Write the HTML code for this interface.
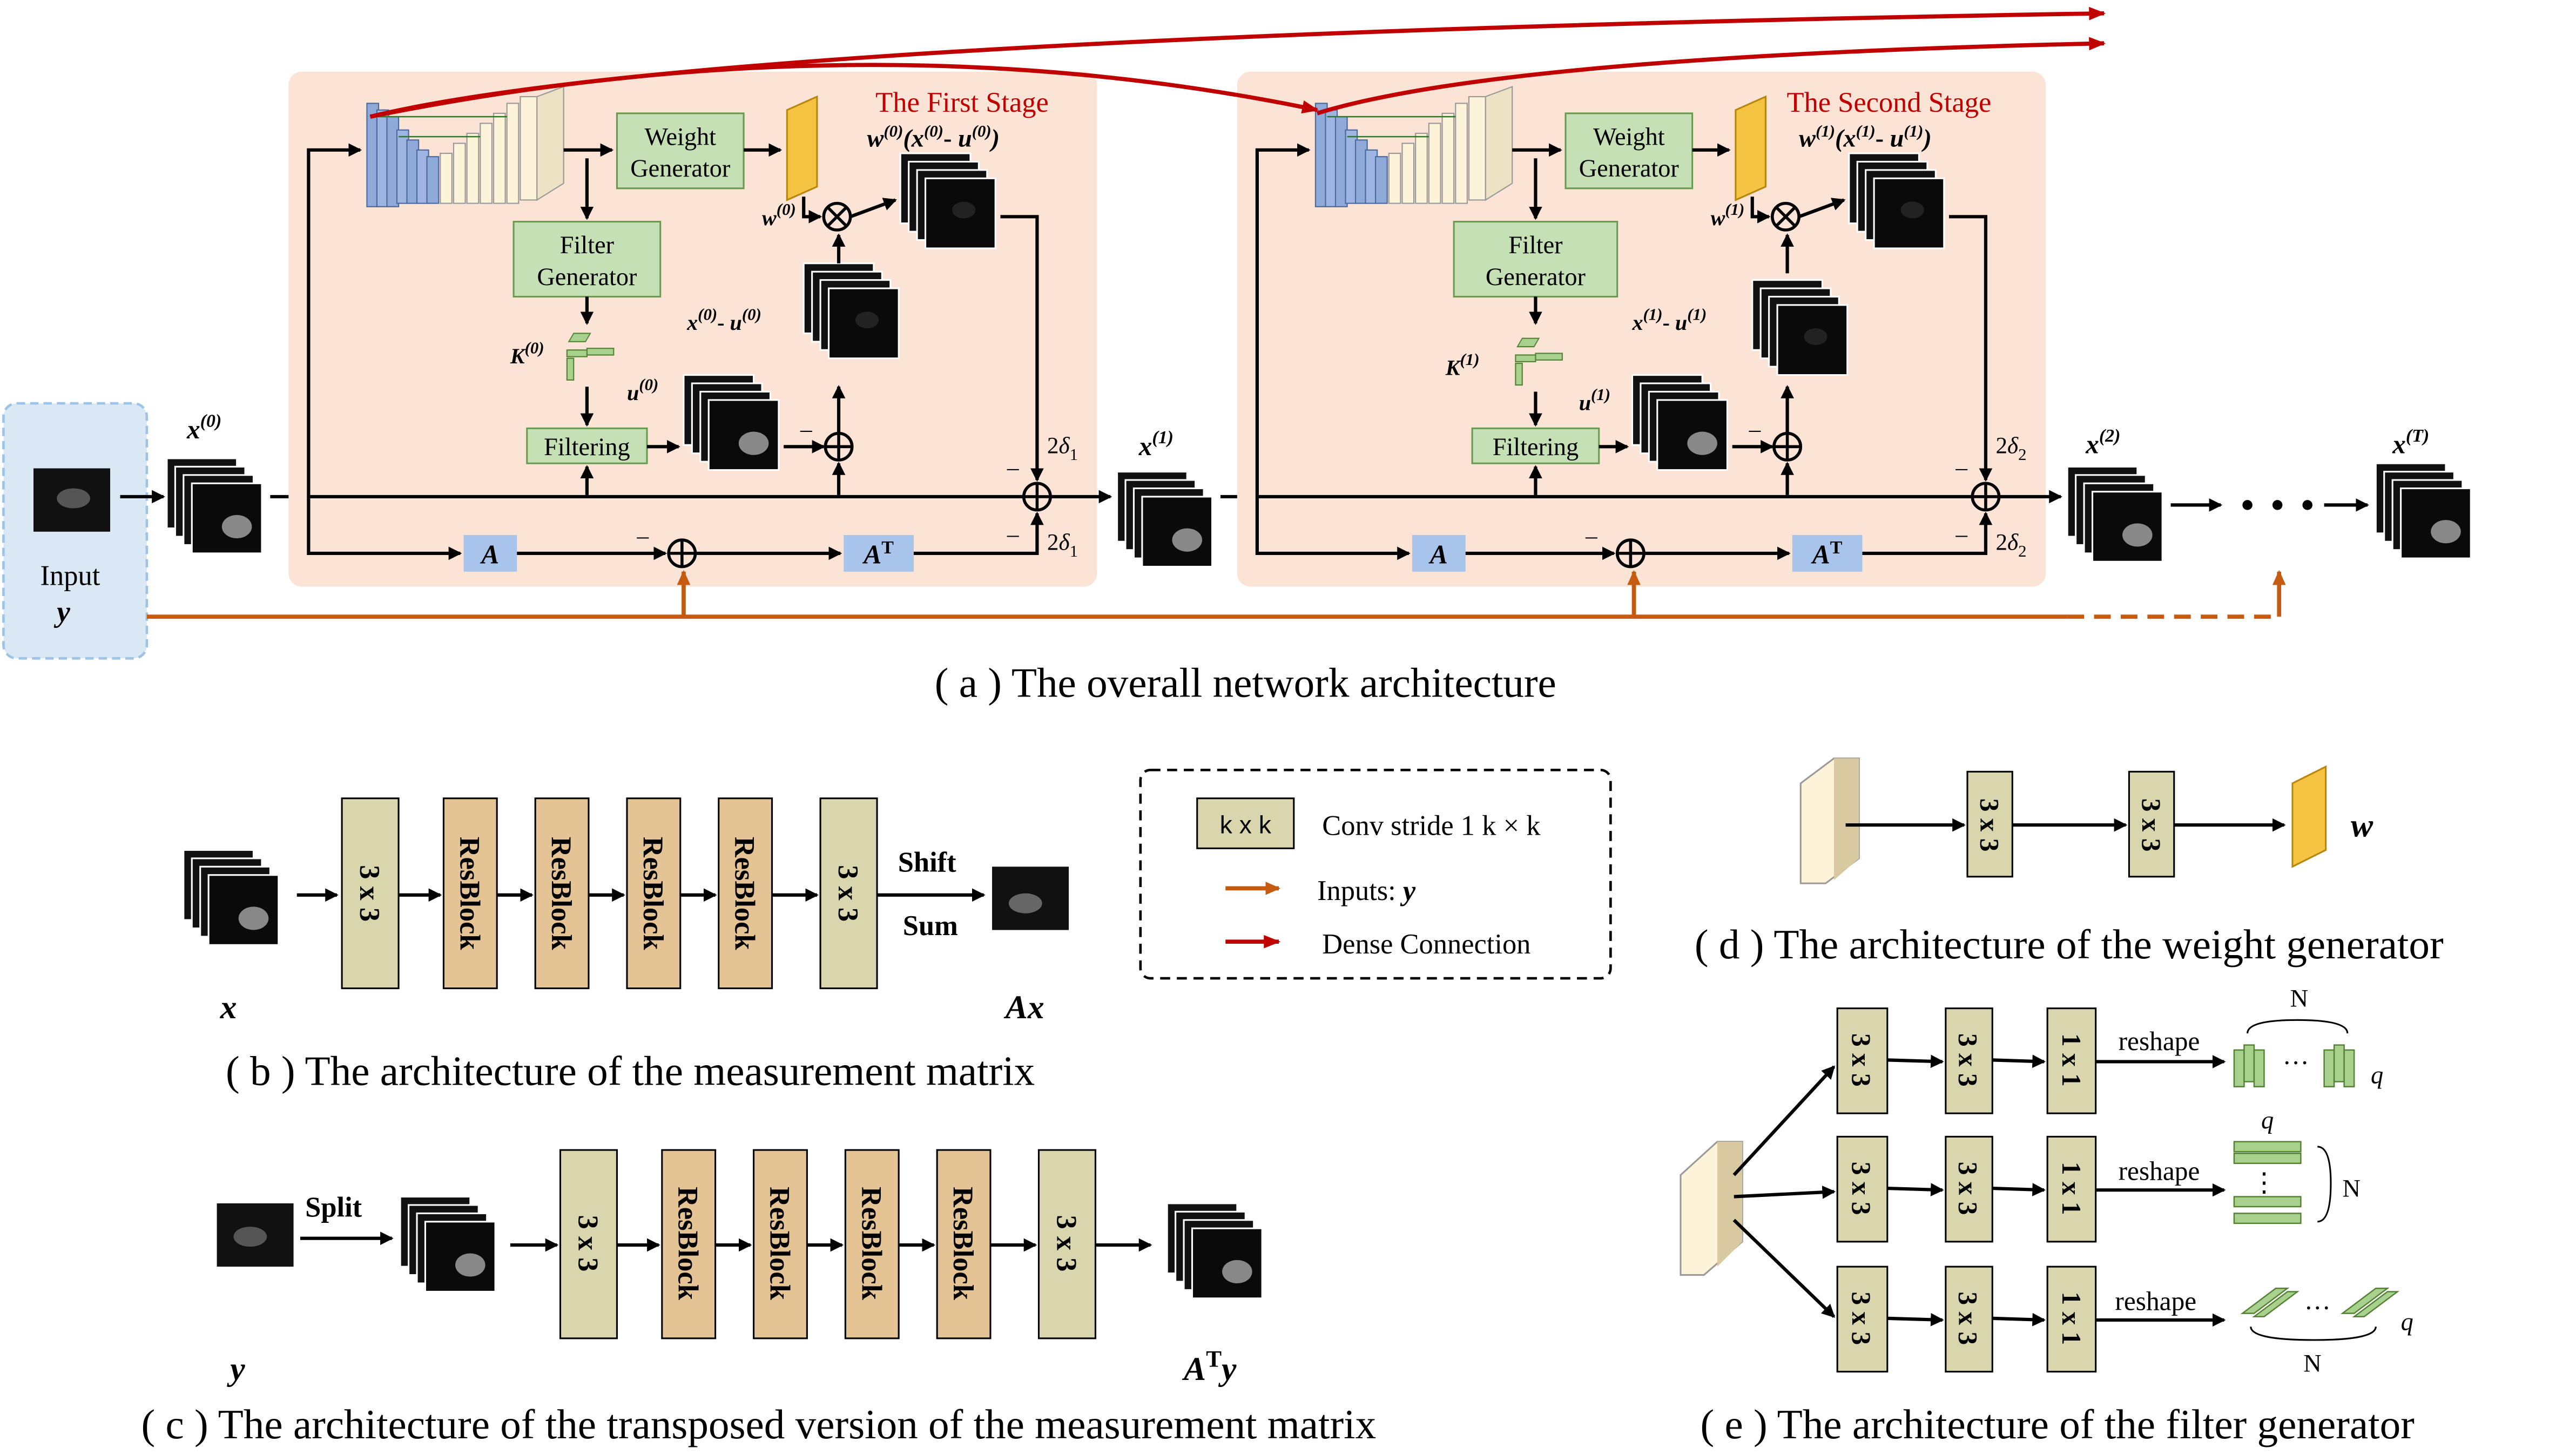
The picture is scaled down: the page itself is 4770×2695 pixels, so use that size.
<!DOCTYPE html>
<html><head><meta charset="utf-8"><style>
html,body{margin:0;padding:0;background:#fff}
svg{display:block}
text{font-family:"Liberation Serif",serif;fill:#000}
</style></head><body>
<svg width="4770" height="2695" viewBox="0 0 1545 873" xmlns="http://www.w3.org/2000/svg">
<defs>
<marker id="ab" markerWidth="8" markerHeight="8" refX="7" refY="4" orient="auto" markerUnits="userSpaceOnUse"><path d="M0,0 L8,4 L0,8 z" fill="#000"/></marker>
<marker id="ar" markerWidth="10" markerHeight="8" refX="9" refY="4" orient="auto" markerUnits="userSpaceOnUse"><path d="M0,0 L10,4 L0,8 z" fill="#c00000"/></marker>
<marker id="ao" markerWidth="9" markerHeight="8" refX="8" refY="4" orient="auto" markerUnits="userSpaceOnUse"><path d="M0,0 L9,4 L0,8 z" fill="#c55a11"/></marker>
<g id="stk">
<rect x="0" y="0" width="42" height="42" fill="#111" stroke="#fff" stroke-width="1"/>
<rect x="5" y="5" width="42" height="42" fill="#111" stroke="#fff" stroke-width="1"/>
<rect x="10" y="10" width="42" height="42" fill="#111" stroke="#fff" stroke-width="1"/>
<rect x="15" y="15" width="42" height="42" fill="#0a0a0a" stroke="#fff" stroke-width="1"/>
<ellipse cx="42" cy="41" rx="9" ry="7" fill="#888"/>
</g>
<g id="stkd">
<rect x="0" y="0" width="42" height="42" fill="#111" stroke="#fff" stroke-width="1"/>
<rect x="5" y="5" width="42" height="42" fill="#111" stroke="#fff" stroke-width="1"/>
<rect x="10" y="10" width="42" height="42" fill="#111" stroke="#fff" stroke-width="1"/>
<rect x="15" y="15" width="42" height="42" fill="#0a0a0a" stroke="#fff" stroke-width="1"/>
<ellipse cx="38" cy="34" rx="7" ry="5" fill="#222"/>
</g>
<g id="unet">
<rect x="0" y="10" width="7" height="62" fill="#8fa9d9" stroke="#4a6aa0" stroke-width="0.7"/>
<rect x="6" y="14" width="7" height="58" fill="#9db5e0" stroke="#4a6aa0" stroke-width="0.7"/>
<rect x="12" y="18" width="7" height="54" fill="#8fa9d9" stroke="#4a6aa0" stroke-width="0.7"/>
<rect x="18" y="26" width="7" height="44" fill="#9db5e0" stroke="#4a6aa0" stroke-width="0.7"/>
<rect x="24" y="32" width="7" height="38" fill="#8fa9d9" stroke="#4a6aa0" stroke-width="0.7"/>
<rect x="30" y="38" width="7" height="32" fill="#9db5e0" stroke="#4a6aa0" stroke-width="0.7"/>
<rect x="36" y="42" width="7" height="28" fill="#8fa9d9" stroke="#4a6aa0" stroke-width="0.7"/>
<rect x="44" y="40" width="7" height="30" fill="#fdf3d8" stroke="#999" stroke-width="0.7"/>
<rect x="52" y="34" width="7" height="36" fill="#fdf3d8" stroke="#999" stroke-width="0.7"/>
<rect x="60" y="28" width="7" height="42" fill="#fdf3d8" stroke="#999" stroke-width="0.7"/>
<rect x="68" y="22" width="7" height="48" fill="#fdf3d8" stroke="#999" stroke-width="0.7"/>
<rect x="76" y="16" width="7" height="54" fill="#fdf3d8" stroke="#999" stroke-width="0.7"/>
<rect x="84" y="10" width="7" height="60" fill="#fdf3d8" stroke="#999" stroke-width="0.7"/>
<rect x="92" y="6" width="10" height="62" fill="#fdf3d8" stroke="#999" stroke-width="0.7"/>
<polygon points="102,6 118,0 118,58 102,68" fill="#ede3c4" stroke="#999" stroke-width="0.7"/>
<line x1="7" y1="18" x2="84" y2="18" stroke="#2a7a2a" stroke-width="0.8"/>
<line x1="19" y1="30" x2="68" y2="30" stroke="#2a7a2a" stroke-width="0.8"/>
</g>
<g id="kblk" fill="#a9d18e" stroke="#548235" stroke-width="0.7">
<rect x="0" y="15" width="4" height="13"/><rect x="4" y="0" width="10" height="5" transform="skewX(-30)"/>
<rect x="12" y="9" width="16" height="4"/><rect x="0" y="10" width="12" height="4"/>
</g>
</defs>

<!-- input -->
<rect x="2" y="242" width="86" height="153" rx="8" fill="#dae8f5" stroke="#9dc3e6" stroke-width="1.5" stroke-dasharray="5,3"/>
<rect x="20" y="281" width="46" height="38" fill="#111"/><ellipse cx="44" cy="299" rx="10" ry="6" fill="#555"/>
<text x="42" y="351" font-size="17" text-anchor="middle">Input</text>
<text x="38" y="373" font-size="18" font-style="italic" font-weight="bold" text-anchor="middle">y</text>
<path d="M88,370 H1240" stroke="#c55a11" stroke-width="2.5" fill="none"/>
<path d="M1240,370 H1365" stroke="#c55a11" stroke-width="2.5" stroke-dasharray="10,6" fill="none"/>
<path d="M1367,370 V343" stroke="#c55a11" stroke-width="2.5" fill="none" marker-end="url(#ao)"/>

<use href="#stk" x="100" y="275"/>
<text x="112" y="263" font-size="16" font-weight="bold" font-style="italic">x<tspan font-size="11" dy="-7">(0)</tspan></text>
<line x1="72" y1="298" x2="98" y2="298" stroke="#000" stroke-width="2" marker-end="url(#ab)"/>
<line x1="162" y1="298" x2="185" y2="298" stroke="#000" stroke-width="2" marker-end="url(#ab)"/>

<!-- stages -->
<g id="stage">
<rect x="173" y="43" width="485" height="309" rx="8" fill="#fbe3d6"/>
<line x1="185" y1="298" x2="614" y2="298" stroke="#000" stroke-width="2"/>
<path d="M185,298 V90 H216" stroke="#000" stroke-width="2" fill="none" marker-end="url(#ab)"/>
<path d="M185,298 V332 H276" stroke="#000" stroke-width="2" fill="none" marker-end="url(#ab)"/>
<use href="#unet" x="220" y="52"/>
<line x1="338" y1="90" x2="367" y2="90" stroke="#000" stroke-width="2" marker-end="url(#ab)"/>
<rect x="370" y="68" width="76" height="45" fill="#c5e0b4" stroke="#6a9a50"/>
<text x="408" y="87" font-size="15" text-anchor="middle">Weight</text>
<text x="408" y="106" font-size="15" text-anchor="middle">Generator</text>
<line x1="446" y1="90" x2="468" y2="90" stroke="#000" stroke-width="2" marker-end="url(#ab)"/>
<polygon points="472,66 490,58 490,112 472,120" fill="#f5c342" stroke="#b8860b"/>
<text x="457" y="135" font-size="13" font-weight="bold" font-style="italic">w<tspan font-size="10" dy="-6">(0)</tspan></text>
<path d="M482,118 V130 H492" stroke="#000" stroke-width="2" fill="none" marker-end="url(#ab)"/>
<circle cx="502" cy="130" r="8" fill="none" stroke="#000" stroke-width="1.8"/>
<path d="M496,124 L508,136 M508,124 L496,136" stroke="#000" stroke-width="1.8"/>
<line x1="510" y1="130" x2="537" y2="120" stroke="#000" stroke-width="2" marker-end="url(#ab)"/>
<use href="#stkd" x="540" y="92"/>
<path d="M600,130 H622 V288" stroke="#000" stroke-width="2" fill="none" marker-end="url(#ab)"/>
<text x="577" y="67" font-size="17" text-anchor="middle" style="fill:#c00000">The First Stage</text>
<text x="520" y="88" font-size="15" font-weight="bold" font-style="italic">w<tspan font-size="10" dy="-6">(0)</tspan><tspan dy="6">(x</tspan><tspan font-size="10" dy="-6">(0)</tspan><tspan dy="6" font-style="normal">- </tspan><tspan>u</tspan><tspan font-size="10" dy="-6">(0)</tspan><tspan dy="6">)</tspan></text>
<line x1="352" y1="95" x2="352" y2="131" stroke="#000" stroke-width="2" marker-end="url(#ab)"/>
<rect x="308" y="133" width="88" height="45" fill="#c5e0b4" stroke="#6a9a50"/>
<text x="352" y="152" font-size="15" text-anchor="middle">Filter</text>
<text x="352" y="171" font-size="15" text-anchor="middle">Generator</text>
<line x1="352" y1="178" x2="352" y2="194" stroke="#000" stroke-width="2" marker-end="url(#ab)"/>
<text x="306" y="218" font-size="13" font-weight="bold" font-style="italic">K<tspan font-size="10" dy="-6">(0)</tspan></text>
<use href="#kblk" x="340" y="200"/>
<line x1="352" y1="232" x2="352" y2="255" stroke="#000" stroke-width="2" marker-end="url(#ab)"/>
<rect x="316" y="257" width="72" height="21" fill="#c5e0b4" stroke="#6a9a50"/>
<text x="352" y="273" font-size="15" text-anchor="middle">Filtering</text>
<line x1="352" y1="297" x2="352" y2="280" stroke="#000" stroke-width="2" marker-end="url(#ab)"/>
<line x1="388" y1="268" x2="407" y2="268" stroke="#000" stroke-width="2" marker-end="url(#ab)"/>
<text x="376" y="240" font-size="13" font-weight="bold" font-style="italic">u<tspan font-size="10" dy="-6">(0)</tspan></text>
<use href="#stk" x="410" y="225"/>
<line x1="470" y1="268" x2="494" y2="268" stroke="#000" stroke-width="2" marker-end="url(#ab)"/>
<text x="480" y="262" font-size="14">–</text>
<circle cx="503" cy="268" r="8" fill="none" stroke="#000" stroke-width="1.8"/>
<path d="M495,268 H511 M503,260 V276" stroke="#000" stroke-width="1.8"/>
<line x1="503" y1="297" x2="503" y2="278" stroke="#000" stroke-width="2" marker-end="url(#ab)"/>
<line x1="503" y1="260" x2="503" y2="232" stroke="#000" stroke-width="2" marker-end="url(#ab)"/>
<use href="#stkd" x="482" y="158"/>
<text x="412" y="198" font-size="13" font-weight="bold" font-style="italic">x<tspan font-size="10" dy="-6">(0)</tspan><tspan dy="6" font-style="normal">- </tspan>u<tspan font-size="10" dy="-6">(0)</tspan></text>
<line x1="503" y1="158" x2="503" y2="141" stroke="#000" stroke-width="2" marker-end="url(#ab)"/>
<circle cx="622" cy="298" r="8" fill="none" stroke="#000" stroke-width="1.8"/>
<path d="M614,298 H630 M622,290 V306" stroke="#000" stroke-width="1.8"/>
<text x="604" y="285" font-size="14">–</text>
<text x="604" y="325" font-size="14">–</text>
<text x="628" y="272" font-size="14">2<tspan font-style="italic">δ</tspan><tspan font-size="10" dy="4">1</tspan></text>
<text x="628" y="330" font-size="14">2<tspan font-style="italic">δ</tspan><tspan font-size="10" dy="4">1</tspan></text>
<rect x="278" y="321" width="32" height="22" fill="#a9c4eb"/>
<text x="294" y="338" font-size="16" font-weight="bold" font-style="italic" text-anchor="middle">A</text>
<line x1="310" y1="332" x2="399" y2="332" stroke="#000" stroke-width="2" marker-end="url(#ab)"/>
<text x="382" y="326" font-size="14">–</text>
<circle cx="409" cy="332" r="8" fill="none" stroke="#000" stroke-width="1.8"/>
<path d="M401,332 H417 M409,324 V340" stroke="#000" stroke-width="1.8"/>
<line x1="417" y1="332" x2="504" y2="332" stroke="#000" stroke-width="2" marker-end="url(#ab)"/>
<rect x="506" y="321" width="42" height="22" fill="#a9c4eb"/>
<text x="527" y="338" font-size="16" font-weight="bold" font-style="italic" text-anchor="middle">A<tspan font-size="11" dy="-6" font-style="normal">T</tspan></text>
<path d="M548,332 H622 V308" stroke="#000" stroke-width="2" fill="none" marker-end="url(#ab)"/>
</g>
<line x1="630" y1="298" x2="666" y2="298" stroke="#000" stroke-width="2" marker-end="url(#ab)"/>
<use href="#stk" x="670" y="283"/>
<text x="683" y="273" font-size="16" font-weight="bold" font-style="italic">x<tspan font-size="11" dy="-7">(1)</tspan></text>
<line x1="732" y1="298" x2="754" y2="298" stroke="#000" stroke-width="2" marker-end="url(#ab)"/>

<!-- stage 2 -->
<g transform="translate(569,0)">
<rect x="173" y="43" width="485" height="309" rx="8" fill="#fbe3d6"/>
<line x1="185" y1="298" x2="614" y2="298" stroke="#000" stroke-width="2"/>
<path d="M185,298 V90 H216" stroke="#000" stroke-width="2" fill="none" marker-end="url(#ab)"/>
<path d="M185,298 V332 H276" stroke="#000" stroke-width="2" fill="none" marker-end="url(#ab)"/>
<use href="#unet" x="220" y="52"/>
<line x1="338" y1="90" x2="367" y2="90" stroke="#000" stroke-width="2" marker-end="url(#ab)"/>
<rect x="370" y="68" width="76" height="45" fill="#c5e0b4" stroke="#6a9a50"/>
<text x="408" y="87" font-size="15" text-anchor="middle">Weight</text>
<text x="408" y="106" font-size="15" text-anchor="middle">Generator</text>
<line x1="446" y1="90" x2="468" y2="90" stroke="#000" stroke-width="2" marker-end="url(#ab)"/>
<polygon points="472,66 490,58 490,112 472,120" fill="#f5c342" stroke="#b8860b"/>
<text x="457" y="135" font-size="13" font-weight="bold" font-style="italic">w<tspan font-size="10" dy="-6">(1)</tspan></text>
<path d="M482,118 V130 H492" stroke="#000" stroke-width="2" fill="none" marker-end="url(#ab)"/>
<circle cx="502" cy="130" r="8" fill="none" stroke="#000" stroke-width="1.8"/>
<path d="M496,124 L508,136 M508,124 L496,136" stroke="#000" stroke-width="1.8"/>
<line x1="510" y1="130" x2="537" y2="120" stroke="#000" stroke-width="2" marker-end="url(#ab)"/>
<use href="#stkd" x="540" y="92"/>
<path d="M600,130 H622 V288" stroke="#000" stroke-width="2" fill="none" marker-end="url(#ab)"/>
<text x="564" y="67" font-size="17" text-anchor="middle" style="fill:#c00000">The Second Stage</text>
<text x="510" y="88" font-size="15" font-weight="bold" font-style="italic">w<tspan font-size="10" dy="-6">(1)</tspan><tspan dy="6">(x</tspan><tspan font-size="10" dy="-6">(1)</tspan><tspan dy="6" font-style="normal">- </tspan><tspan>u</tspan><tspan font-size="10" dy="-6">(1)</tspan><tspan dy="6">)</tspan></text>
<line x1="352" y1="95" x2="352" y2="131" stroke="#000" stroke-width="2" marker-end="url(#ab)"/>
<rect x="303" y="133" width="98" height="45" fill="#c5e0b4" stroke="#6a9a50"/>
<text x="352" y="152" font-size="15" text-anchor="middle">Filter</text>
<text x="352" y="171" font-size="15" text-anchor="middle">Generator</text>
<line x1="352" y1="178" x2="352" y2="194" stroke="#000" stroke-width="2" marker-end="url(#ab)"/>
<text x="298" y="225" font-size="13" font-weight="bold" font-style="italic">K<tspan font-size="10" dy="-6">(1)</tspan></text>
<use href="#kblk" x="340" y="203"/>
<line x1="352" y1="235" x2="352" y2="255" stroke="#000" stroke-width="2" marker-end="url(#ab)"/>
<rect x="314" y="257" width="76" height="21" fill="#c5e0b4" stroke="#6a9a50"/>
<text x="352" y="273" font-size="15" text-anchor="middle">Filtering</text>
<line x1="352" y1="297" x2="352" y2="280" stroke="#000" stroke-width="2" marker-end="url(#ab)"/>
<line x1="390" y1="268" x2="407" y2="268" stroke="#000" stroke-width="2" marker-end="url(#ab)"/>
<text x="378" y="246" font-size="13" font-weight="bold" font-style="italic">u<tspan font-size="10" dy="-6">(1)</tspan></text>
<use href="#stk" x="410" y="225"/>
<line x1="470" y1="268" x2="494" y2="268" stroke="#000" stroke-width="2" marker-end="url(#ab)"/>
<text x="480" y="262" font-size="14">–</text>
<circle cx="503" cy="268" r="8" fill="none" stroke="#000" stroke-width="1.8"/>
<path d="M495,268 H511 M503,260 V276" stroke="#000" stroke-width="1.8"/>
<line x1="503" y1="297" x2="503" y2="278" stroke="#000" stroke-width="2" marker-end="url(#ab)"/>
<line x1="503" y1="260" x2="503" y2="232" stroke="#000" stroke-width="2" marker-end="url(#ab)"/>
<use href="#stkd" x="482" y="168"/>
<text x="410" y="198" font-size="13" font-weight="bold" font-style="italic">x<tspan font-size="10" dy="-6">(1)</tspan><tspan dy="6" font-style="normal">- </tspan>u<tspan font-size="10" dy="-6">(1)</tspan></text>
<line x1="503" y1="164" x2="503" y2="141" stroke="#000" stroke-width="2" marker-end="url(#ab)"/>
<circle cx="622" cy="298" r="8" fill="none" stroke="#000" stroke-width="1.8"/>
<path d="M614,298 H630 M622,290 V306" stroke="#000" stroke-width="1.8"/>
<text x="604" y="285" font-size="14">–</text>
<text x="604" y="325" font-size="14">–</text>
<text x="628" y="272" font-size="14">2<tspan font-style="italic">δ</tspan><tspan font-size="10" dy="4">2</tspan></text>
<text x="628" y="330" font-size="14">2<tspan font-style="italic">δ</tspan><tspan font-size="10" dy="4">2</tspan></text>
<rect x="278" y="321" width="32" height="22" fill="#a9c4eb"/>
<text x="294" y="338" font-size="16" font-weight="bold" font-style="italic" text-anchor="middle">A</text>
<line x1="310" y1="332" x2="399" y2="332" stroke="#000" stroke-width="2" marker-end="url(#ab)"/>
<text x="382" y="326" font-size="14">–</text>
<circle cx="409" cy="332" r="8" fill="none" stroke="#000" stroke-width="1.8"/>
<path d="M401,332 H417 M409,324 V340" stroke="#000" stroke-width="1.8"/>
<line x1="417" y1="332" x2="504" y2="332" stroke="#000" stroke-width="2" marker-end="url(#ab)"/>
<rect x="506" y="321" width="42" height="22" fill="#a9c4eb"/>
<text x="527" y="338" font-size="16" font-weight="bold" font-style="italic" text-anchor="middle">A<tspan font-size="11" dy="-6" font-style="normal">T</tspan></text>
<path d="M548,332 H622 V308" stroke="#000" stroke-width="2" fill="none" marker-end="url(#ab)"/>
</g>
<path d="M410,370 V343" stroke="#c55a11" stroke-width="2.5" fill="none" marker-end="url(#ao)"/>
<path d="M980,370 V343" stroke="#c55a11" stroke-width="2.5" fill="none" marker-end="url(#ao)"/>
<line x1="1199" y1="298" x2="1236" y2="298" stroke="#000" stroke-width="2" marker-end="url(#ab)"/>
<use href="#stk" x="1240" y="280"/>
<text x="1251" y="272" font-size="16" font-weight="bold" font-style="italic">x<tspan font-size="11" dy="-7">(2)</tspan></text>
<line x1="1302" y1="303" x2="1332" y2="303" stroke="#000" stroke-width="2" marker-end="url(#ab)"/>
<circle cx="1348" cy="303" r="3" fill="#000"/><circle cx="1366" cy="303" r="3" fill="#000"/><circle cx="1384" cy="303" r="3" fill="#000"/>
<line x1="1394" y1="303" x2="1420" y2="303" stroke="#000" stroke-width="2" marker-end="url(#ab)"/>
<use href="#stk" x="1425" y="278"/>
<text x="1435" y="272" font-size="16" font-weight="bold" font-style="italic">x<tspan font-size="11" dy="-7">(T)</tspan></text>

<!-- red dense connections (on top) -->
<path d="M222,70 Q420,22 1262,8" fill="none" stroke="#c00000" stroke-width="2.5" marker-end="url(#ar)"/>
<path d="M222,70 Q520,10 790,66" fill="none" stroke="#c00000" stroke-width="2.5" marker-end="url(#ar)"/>
<path d="M790,68 Q900,34 1262,26" fill="none" stroke="#c00000" stroke-width="2.5" marker-end="url(#ar)"/>

<text x="747" y="418" font-size="25" text-anchor="middle">( a )   The overall network architecture</text>

<!-- (b) -->
<use href="#stk" x="110" y="510"/>
<line x1="178" y1="537" x2="202" y2="537" stroke="#000" stroke-width="2" marker-end="url(#ab)"/>
<g stroke="#000" stroke-width="1">
<rect x="205" y="479" width="34" height="114" fill="#d9d5ad"/>
<rect x="266" y="479" width="32" height="114" fill="#e4c494"/>
<rect x="321" y="479" width="32" height="114" fill="#e4c494"/>
<rect x="376" y="479" width="32" height="114" fill="#e4c494"/>
<rect x="431" y="479" width="32" height="114" fill="#e4c494"/>
<rect x="492" y="479" width="34" height="114" fill="#d9d5ad"/>
</g>
<g stroke="#000" stroke-width="2" marker-end="url(#ab)">
<line x1="239" y1="537" x2="264" y2="537"/><line x1="298" y1="537" x2="319" y2="537"/>
<line x1="353" y1="537" x2="374" y2="537"/><line x1="408" y1="537" x2="429" y2="537"/>
<line x1="463" y1="537" x2="490" y2="537"/><line x1="526" y1="537" x2="590" y2="537"/>
</g>
<g font-size="17" font-weight="bold">
<text transform="translate(216,536) rotate(90)" text-anchor="middle">3 x 3</text>
<text transform="translate(276,536) rotate(90)" text-anchor="middle">ResBlock</text>
<text transform="translate(331,536) rotate(90)" text-anchor="middle">ResBlock</text>
<text transform="translate(386,536) rotate(90)" text-anchor="middle">ResBlock</text>
<text transform="translate(441,536) rotate(90)" text-anchor="middle">ResBlock</text>
<text transform="translate(503,536) rotate(90)" text-anchor="middle">3 x 3</text>
</g>
<text x="556" y="523" font-size="17" font-weight="bold" text-anchor="middle">Shift</text>
<text x="558" y="561" font-size="17" font-weight="bold" text-anchor="middle">Sum</text>
<rect x="595" y="520" width="46" height="38" fill="#111"/><ellipse cx="615" cy="542" rx="10" ry="6" fill="#666"/>
<text x="132" y="611" font-size="20" font-weight="bold" font-style="italic">x</text>
<text x="603" y="611" font-size="20" font-weight="bold" font-style="italic">Ax</text>
<text x="378" y="651" font-size="25" text-anchor="middle">( b ) The architecture of the measurement matrix</text>

<!-- (c) -->
<rect x="130" y="722" width="46" height="38" fill="#111"/><ellipse cx="150" cy="742" rx="10" ry="6" fill="#555"/>
<text x="183" y="730" font-size="17" font-weight="bold">Split</text>
<line x1="180" y1="743" x2="235" y2="743" stroke="#000" stroke-width="2" marker-end="url(#ab)"/>
<use href="#stk" x="240" y="718"/>
<g stroke="#000" stroke-width="1">
<rect x="336" y="690" width="34" height="113" fill="#d9d5ad"/>
<rect x="397" y="690" width="32" height="113" fill="#e4c494"/>
<rect x="452" y="690" width="32" height="113" fill="#e4c494"/>
<rect x="507" y="690" width="32" height="113" fill="#e4c494"/>
<rect x="562" y="690" width="32" height="113" fill="#e4c494"/>
<rect x="623" y="690" width="34" height="113" fill="#d9d5ad"/>
</g>
<g stroke="#000" stroke-width="2" marker-end="url(#ab)">
<line x1="306" y1="747" x2="334" y2="747"/><line x1="370" y1="747" x2="395" y2="747"/>
<line x1="429" y1="747" x2="450" y2="747"/><line x1="484" y1="747" x2="505" y2="747"/>
<line x1="539" y1="747" x2="560" y2="747"/><line x1="594" y1="747" x2="621" y2="747"/>
<line x1="657" y1="747" x2="690" y2="747"/>
</g>
<g font-size="17" font-weight="bold">
<text transform="translate(347,746) rotate(90)" text-anchor="middle">3 x 3</text>
<text transform="translate(407,746) rotate(90)" text-anchor="middle">ResBlock</text>
<text transform="translate(462,746) rotate(90)" text-anchor="middle">ResBlock</text>
<text transform="translate(517,746) rotate(90)" text-anchor="middle">ResBlock</text>
<text transform="translate(572,746) rotate(90)" text-anchor="middle">ResBlock</text>
<text transform="translate(634,746) rotate(90)" text-anchor="middle">3 x 3</text>
</g>
<use href="#stk" x="700" y="722"/>
<text x="138" y="828" font-size="20" font-weight="bold" font-style="italic">y</text>
<text x="710" y="828" font-size="20" font-weight="bold" font-style="italic">A<tspan font-size="14" dy="-8" font-style="normal">T</tspan><tspan dy="8">y</tspan></text>
<text x="455" y="863" font-size="25" text-anchor="middle">( c ) The architecture of the transposed version of  the measurement matrix</text>

<!-- legend -->
<rect x="684" y="462" width="282" height="125" rx="6" fill="none" stroke="#000" stroke-width="1.5" stroke-dasharray="6,4"/>
<rect x="718" y="479" width="58" height="30" fill="#d9d5ad" stroke="#000"/>
<text x="747" y="500" font-size="15" text-anchor="middle" style="font-family:'Liberation Sans',sans-serif">k x k</text>
<text x="793" y="501" font-size="17">Conv  stride 1  k × k</text>
<line x1="735" y1="533" x2="767" y2="533" stroke="#c55a11" stroke-width="2.5" marker-end="url(#ao)"/>
<text x="790" y="540" font-size="17">Inputs:   <tspan font-weight="bold" font-style="italic">y</tspan></text>
<line x1="735" y1="565" x2="767" y2="565" stroke="#c00000" stroke-width="2.5" marker-end="url(#ar)"/>
<text x="793" y="572" font-size="17">Dense Connection</text>

<!-- (d) -->
<polygon points="1080,470 1100,455 1115,455 1115,515 1095,530 1080,530" fill="#fdf3d8" stroke="#999"/>
<polygon points="1100,455 1115,455 1115,515 1100,528" fill="#d9c9a0"/>
<line x1="1107" y1="495" x2="1178" y2="495" stroke="#000" stroke-width="2" marker-end="url(#ab)"/>
<rect x="1180" y="463" width="27" height="63" fill="#d9d5ad" stroke="#000"/>
<text transform="translate(1188,495) rotate(90)" font-size="16" font-weight="bold" text-anchor="middle">3 x 3</text>
<line x1="1207" y1="495" x2="1275" y2="495" stroke="#000" stroke-width="2" marker-end="url(#ab)"/>
<rect x="1277" y="463" width="27" height="63" fill="#d9d5ad" stroke="#000"/>
<text transform="translate(1285,495) rotate(90)" font-size="16" font-weight="bold" text-anchor="middle">3 x 3</text>
<line x1="1304" y1="495" x2="1370" y2="495" stroke="#000" stroke-width="2" marker-end="url(#ab)"/>
<polygon points="1375,470 1395,460 1395,510 1375,520" fill="#f5c342" stroke="#b8860b"/>
<text x="1410" y="502" font-size="20" font-weight="bold" font-style="italic">w</text>
<text x="1241" y="575" font-size="25" text-anchor="middle">( d ) The architecture of the weight generator</text>

<!-- (e) -->
<polygon points="1008,705 1030,685 1045,685 1045,745 1022,765 1008,765" fill="#fdf3d8" stroke="#999"/>
<polygon points="1030,685 1045,685 1045,745 1030,760" fill="#d9c9a0"/>
<g stroke="#000" stroke-width="2" marker-end="url(#ab)">
<line x1="1040" y1="705" x2="1100" y2="640"/>
<line x1="1040" y1="718" x2="1100" y2="715"/>
<line x1="1040" y1="732" x2="1100" y2="790"/>
</g>
<g id="erow">
<rect x="1102" y="605" width="30" height="63" fill="#d9d5ad" stroke="#000"/>
<rect x="1167" y="605" width="28" height="63" fill="#d9d5ad" stroke="#000"/>
<rect x="1228" y="605" width="29" height="63" fill="#d9d5ad" stroke="#000"/>
<text transform="translate(1111,636) rotate(90)" font-size="16" font-weight="bold" text-anchor="middle">3 x 3</text>
<text transform="translate(1175,636) rotate(90)" font-size="16" font-weight="bold" text-anchor="middle">3 x 3</text>
<text transform="translate(1237,636) rotate(90)" font-size="16" font-weight="bold" text-anchor="middle">1 x 1</text>
<line x1="1132" y1="636" x2="1165" y2="637" stroke="#000" stroke-width="2" marker-end="url(#ab)"/>
<line x1="1195" y1="636" x2="1226" y2="637" stroke="#000" stroke-width="2" marker-end="url(#ab)"/>
<line x1="1257" y1="637" x2="1334" y2="637" stroke="#000" stroke-width="2" marker-end="url(#ab)"/>
</g>
<use href="#erow" y="77"/>
<use href="#erow" y="155"/>
<text x="1295" y="630" font-size="16" text-anchor="middle">reshape</text>
<text x="1295" y="708" font-size="16" text-anchor="middle">reshape</text>
<text x="1293" y="786" font-size="16" text-anchor="middle">reshape</text>
<g fill="#a9d18e" stroke="#548235" stroke-width="0.8">
<rect x="1340" y="630" width="6" height="22"/><rect x="1346" y="627" width="6" height="22"/><rect x="1352" y="630" width="6" height="22"/>
<rect x="1394" y="630" width="6" height="22"/><rect x="1400" y="627" width="6" height="22"/><rect x="1406" y="630" width="6" height="22"/>
<rect x="1340" y="685" width="40" height="6"/><rect x="1340" y="692" width="40" height="6"/><rect x="1340" y="718" width="40" height="6"/><rect x="1340" y="728" width="40" height="6"/>
<polygon points="1345,788 1365,773 1372,773 1352,788"/><polygon points="1352,790 1372,775 1378,775 1358,790"/>
<polygon points="1405,788 1425,773 1432,773 1412,788"/><polygon points="1412,790 1432,775 1438,775 1418,790"/>
</g>
<text x="1377" y="643" font-size="16" text-anchor="middle">···</text>
<text x="1379" y="604" font-size="15" text-anchor="middle">N</text>
<path d="M1348,620 Q1348,612 1378,612 Q1408,612 1408,620" fill="none" stroke="#000"/>
<text x="1422" y="650" font-size="15" font-style="italic">q</text>
<text x="1360" y="677" font-size="15" font-style="italic" text-anchor="middle">q</text>
<text x="1358" y="715" font-size="16" text-anchor="middle">⋮</text>
<path d="M1390,688 Q1398,688 1398,710 Q1398,733 1390,733" fill="none" stroke="#000"/>
<text x="1405" y="718" font-size="15">N</text>
<text x="1390" y="790" font-size="16" text-anchor="middle">···</text>
<text x="1440" y="798" font-size="15" font-style="italic">q</text>
<path d="M1350,796 Q1350,804 1388,804 Q1425,804 1425,796" fill="none" stroke="#000"/>
<text x="1387" y="823" font-size="15" text-anchor="middle">N</text>
<text x="1234" y="863" font-size="25" text-anchor="middle">( e ) The architecture of the filter generator</text>
</svg>
</body></html>
